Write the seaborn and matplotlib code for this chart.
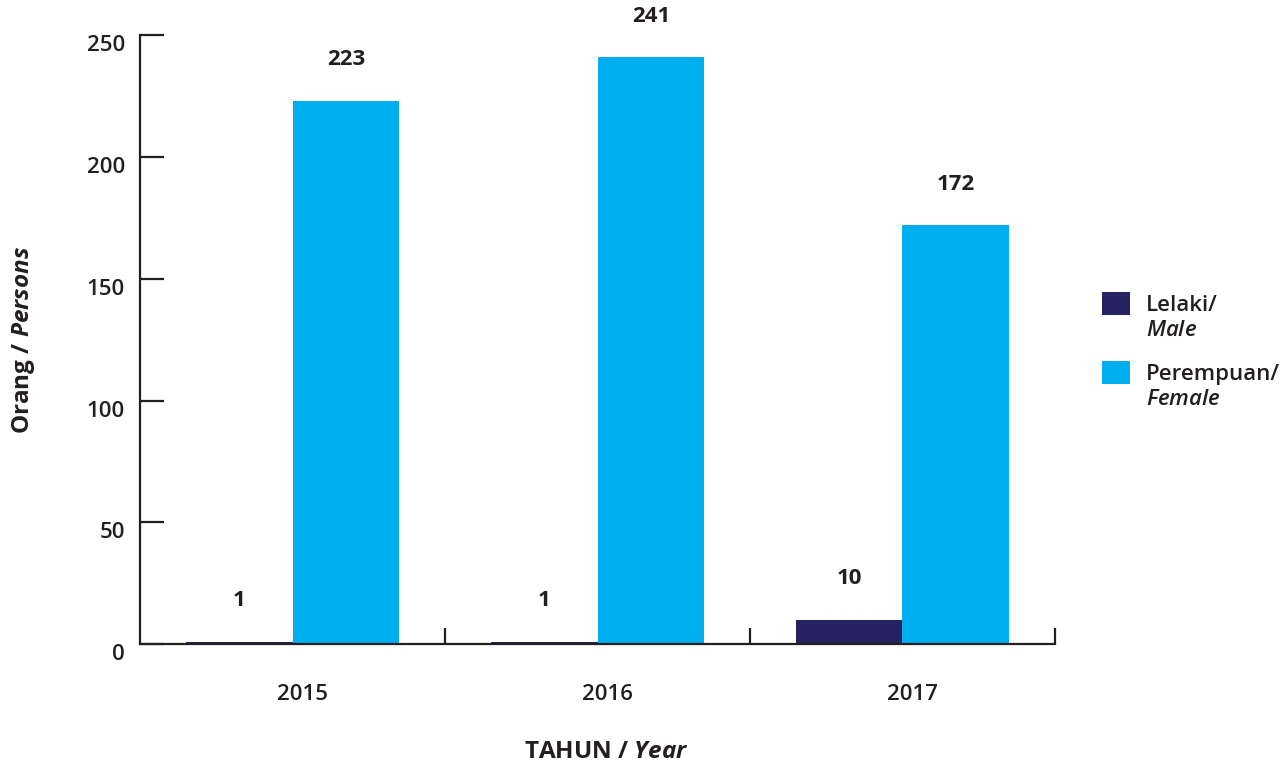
import pandas as pd
import matplotlib
matplotlib.use("Agg")
import matplotlib.pyplot as plt
import matplotlib.transforms as mtransforms
import seaborn as sns

# Data
years = ["2015", "2016", "2017"]
male = [1, 1, 10]
female = [223, 241, 172]
series_names = ["Lelaki/", "Perempuan/"]
series_italic = ["Male", "Female"]
yticks = [0, 50, 100, 150, 200, 250]

colors = ["#262262", "#00AEEF"]
dark = "#231f20"
semi = ["Open Sans SemiBold", "Open Sans Semibold", "Open Sans", "DejaVu Sans"]

df = pd.DataFrame({
    "year": years * 2,
    "value": male + female,
    "sex": [series_names[0]] * len(years) + [series_names[1]] * len(years),
})

sns.set_style("white")
plt.rcParams["font.family"] = ["Open Sans", "DejaVu Sans"]
plt.rcParams["mathtext.fontset"] = "custom"
plt.rcParams["mathtext.it"] = "Open Sans:italic:semibold"
plt.rcParams["mathtext.bf"] = "Open Sans:italic:bold"
plt.rcParams["mathtext.rm"] = "Open Sans"

fig = plt.figure(figsize=(12.85, 7.65), dpi=100)
ax = fig.add_axes([0.109, 0.158, 0.712, 0.796])

sns.barplot(data=df, x="year", y="value", hue="sex", palette=colors,
            width=0.7, saturation=1, linewidth=0, ax=ax, legend=True)

ax.set_xlim(-0.5, 2.5)
ax.set_ylim(0, 250)
ax.set_yticks(yticks)

# value labels
for cont in ax.containers:
    for bar in cont:
        h = bar.get_height()
        ax.annotate(f"{int(h)}", (bar.get_x() + bar.get_width() / 2, h),
                    xytext=(0, 29.5), textcoords="offset points",
                    ha="center", va="center", fontsize=16,
                    fontweight="bold", color=dark)

# spines & ticks
sns.despine(ax=ax)
for s in ["left", "bottom"]:
    ax.spines[s].set_color(dark)
    ax.spines[s].set_linewidth(1.6)
ax.tick_params(axis="y", left=True, direction="in", length=17, width=1.6,
               color=dark, pad=11, labelsize=16, labelcolor=dark)
ax.tick_params(axis="x", which="major", bottom=False, pad=25, labelsize=16,
               labelcolor=dark)
ax.set_xticks([0.5, 1.5, 2.5], minor=True)
ax.tick_params(axis="x", which="minor", bottom=True, direction="in",
               length=11.5, width=1.6, color=dark)
for lab in ax.get_xticklabels() + ax.get_yticklabels():
    lab.set_family(semi)
    lab.set_fontweight("semibold")
# label offsets seen in the original
xshift = mtransforms.ScaledTranslation(0.1, 0, fig.dpi_scale_trans)
for lab in ax.get_xticklabels():
    lab.set_transform(lab.get_transform() + xshift)
yshift = mtransforms.ScaledTranslation(0, -0.08, fig.dpi_scale_trans)
for lab in ax.get_yticklabels():
    lab.set_transform(lab.get_transform() + yshift)

ax.set_xlabel(r"TAHUN / $\mathbf{Year}$", fontsize=17.5, fontweight="bold",
              color=dark)
ax.set_ylabel(r"Orang / $\mathbf{Persons}$", fontsize=17.5, fontweight="bold",
              color=dark)
ax.xaxis.set_label_coords(0.51, -0.177)
ax.xaxis.label.set_va("center")
ax.yaxis.set_label_coords(-0.127, 0.5)
ax.yaxis.label.set_va("center")

# legend
handles, labels = ax.get_legend_handles_labels()
leg = ax.legend(handles, labels, loc="upper left",
                bbox_to_anchor=(1.042, 0.593), frameon=False,
                fontsize=16, handlelength=1.25, handleheight=1.25,
                handletextpad=0.7, labelspacing=2.0, borderaxespad=0)
fig.canvas.draw()
for txt, it in zip(leg.get_texts(), series_italic):
    txt.set_color(dark)
    txt.set_family(semi)
    txt.set_fontweight("semibold")
    ax.annotate(f"${{\\mathit{{{it}}}}}$", xy=(0, 0), xycoords=txt,
                xytext=(0, -3), textcoords="offset points", ha="left",
                va="top", fontsize=16, color=dark, annotation_clip=False)

fig.savefig("out.png", dpi=100)
